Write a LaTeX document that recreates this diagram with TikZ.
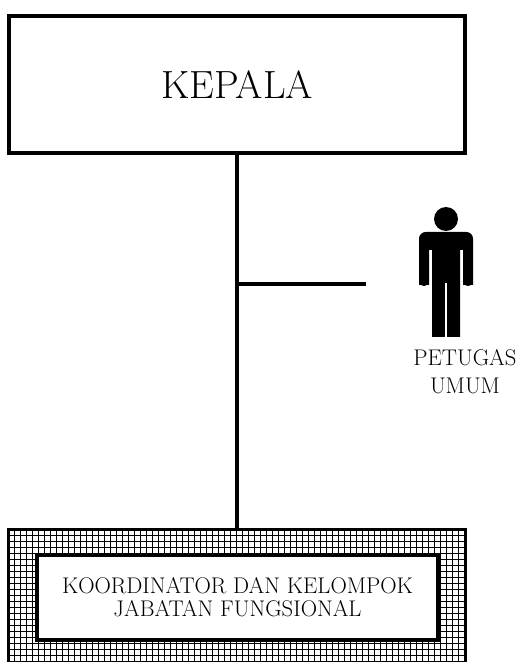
\documentclass[tikz,border=0pt]{standalone}
\usepackage{fontspec}
\usetikzlibrary{positioning}

\begin{document}
\begin{tikzpicture}[x=0.75pt,y=0.75pt]
\useasboundingbox (0,0) rectangle (517,662);
\clip (0,0) rectangle (517,662);
% kepala
\node[draw, line width=3pt, minimum width=342pt, minimum height=102.75pt, font=\fontsize{29.5}{34}\selectfont] (kepala) at (237,577.5) {KEPALA};
% kotak berpola
\begin{scope}
\clip (8.5,-30) rectangle (465.5,132.5);
\foreach \gx in {8.5,14.5,...,470} \draw[line width=1.1pt] (\gx,-30) -- (\gx,135);
\foreach \gy in {132.5,126.5,...,-30} \draw[line width=1.1pt] (5,\gy) -- (470,\gy);
\end{scope}
\node[draw, line width=2.5pt, minimum width=342.75pt, minimum height=121.9pt] (jfbox) at (237,51.25) {};
\node[draw, fill=white, line width=2.7pt, minimum width=301pt, minimum height=64pt, align=center, font=\fontsize{17}{17.5}\selectfont] (jfu) at (237.5,64.5) {KOORDINATOR DAN KELOMPOK\\JABATAN FUNGSIONAL};
% garis
\draw[line width=3pt] (kepala.south) -- (jfbox.north);
\coordinate (ujung) at (366,378);
\draw[line width=2.4pt] (kepala.south |- ujung) -- (ujung);
% petugas umum
\fill (446,443) circle (12);
\fill (419,377) [rounded corners=5pt] -- (419,430) -- (473,430) [sharp corners] -- (473,377) -- (463,377)
  [rounded corners=0pt] -- (463,412) -- (460,412) -- (460,325) -- (432,325) -- (432,412) -- (429,412) -- (429,377) -- cycle;
\fill (419,380) arc (180:360:5 and 4) -- cycle;
\fill (463,380) arc (180:360:5 and 4) -- cycle;
\draw[white, line width=2pt] (446,379) -- (446,320);
\node[align=center, font=\fontsize{17}{21}\selectfont] (petugas) at (465,290.5) {PETUGAS\\UMUM};
\end{tikzpicture}
\end{document}
